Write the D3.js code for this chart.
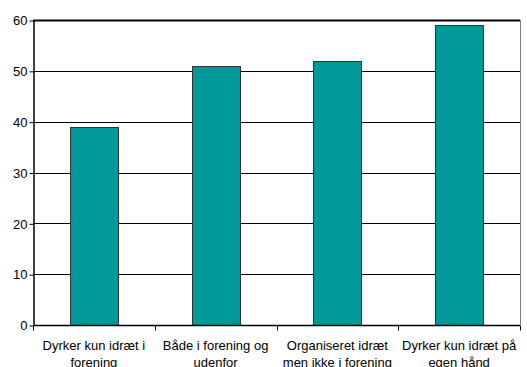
<!DOCTYPE html>
<html><head><meta charset="utf-8">
<script src="https://cdn.jsdelivr.net/npm/d3@7"></script>
<style>body{margin:0;background:#fff}svg{display:block}</style>
</head><body>
<script>
const categories = [["Dyrker kun idræt i","forening"],["Både i forening og","udenfor"],["Organiseret idræt","men ikke i forening"],["Dyrker kun idræt på","egen hånd"]];
const values = [39, 51, 52, 59];
const yTicks = [0,10,20,30,40,50,60];

const W=527,H=367, L=33, R=520, T=20, B=325;
const FS=13;
const svg=d3.select("body").append("svg").attr("width",W).attr("height",H);
const x=d3.scaleBand().domain(d3.range(categories.length)).range([L,R]).paddingInner(0).paddingOuter(0);
const y=d3.scaleLinear().domain([0,60]).range([B,T]);

// gridlines
svg.append("g").selectAll("line").data(yTicks.slice(1)).join("line")
  .attr("x1",L).attr("x2",R).attr("y1",d=>Math.round(y(d))+0.5).attr("y2",d=>Math.round(y(d))+0.5)
  .attr("stroke","#000").attr("stroke-width",d=>d===60?2:1);
// right border
svg.append("line").attr("x1",R+0.5).attr("x2",R+0.5).attr("y1",T).attr("y2",B).attr("stroke","#808080");

// bars
const bw=48;
svg.append("g").selectAll("rect").data(values).join("rect")
  .attr("x",(d,i)=>Math.round(x(i)+x.bandwidth()/2-bw/2)+0.5)
  .attr("y",d=>Math.round(y(d))+0.5)
  .attr("width",bw).attr("height",d=>Math.round(B)-Math.round(y(d)))
  .attr("fill","#009999").attr("stroke","#333").attr("stroke-width",1);

// y axis
const ya=svg.append("g").attr("transform",`translate(${L+0.5},0.5)`)
  .call(d3.axisLeft(y).tickValues(yTicks).tickSize(4).tickSizeOuter(0).tickPadding(2));
ya.select(".domain").attr("stroke","#000").attr("stroke-width",1.5);
ya.selectAll("text").attr("font-family","Liberation Sans, Arial, sans-serif").attr("font-size",FS).attr("fill","#000");

// x axis
const xa=svg.append("g").attr("transform",`translate(0,${B+0.5})`);
xa.append("line").attr("x1",L).attr("x2",R).attr("stroke","#000").attr("stroke-width",1.5);
const bounds=d3.range(categories.length+1).map(i=>i<categories.length?x(i):R);
xa.selectAll("line.t").data(bounds).join("line").attr("class","t")
  .attr("x1",d=>Math.round(d)+0.5).attr("x2",d=>Math.round(d)+0.5).attr("y1",0).attr("y2",5).attr("stroke","#000");
xa.selectAll("text").data(categories).join("text")
  .attr("x",(d,i)=>x(i)+x.bandwidth()/2).attr("y",24)
  .attr("text-anchor","middle").attr("font-family","Liberation Sans, Arial, sans-serif").attr("font-size",FS).attr("fill","#000")
  .each(function(d){
    const t=d3.select(this);
    d.forEach((s,k)=>t.append("tspan").attr("x",t.attr("x")).attr("dy",k===0?0:17).text(s));
  });
</script>
</body></html>
